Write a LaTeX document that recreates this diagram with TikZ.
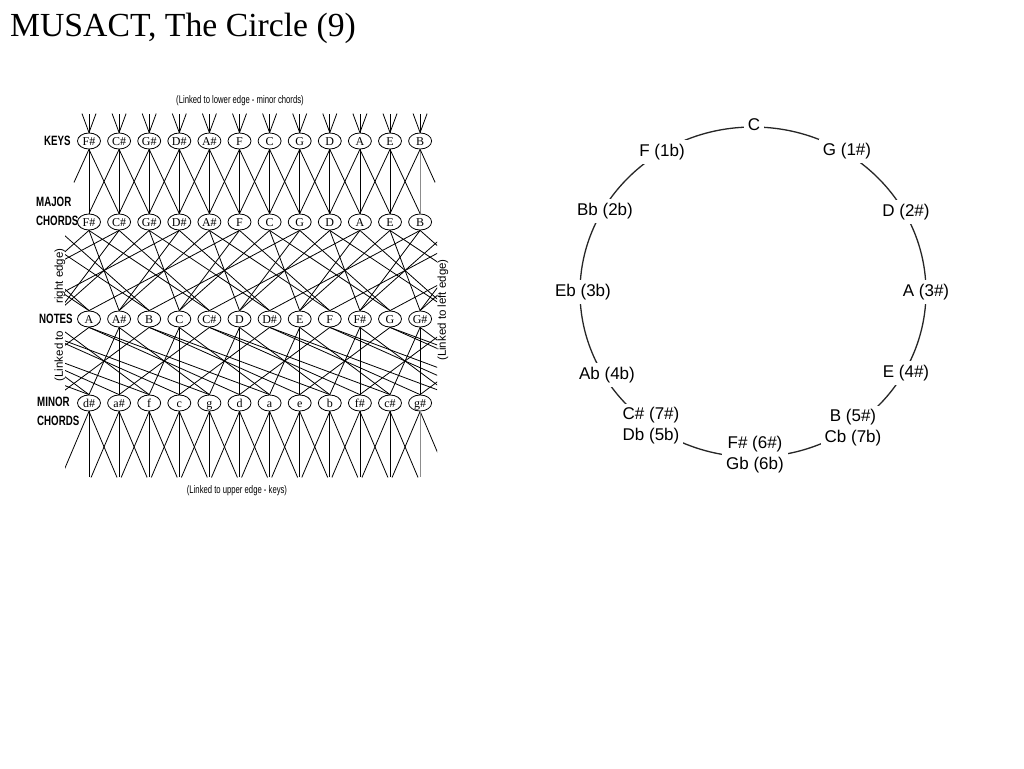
\documentclass[tikz,border=0pt]{standalone}
\usepackage{fontspec}
\setmainfont{Liberation Serif}
\newfontfamily\mcsans{Liberation Sans}
\newfontfamily\mcrowfont[FakeStretch=0.72]{Liberation Sans Bold}
\newfontfamily\mclinkfont[FakeStretch=0.7]{Liberation Sans}
\usepackage{tikz}
\usetikzlibrary{shapes.geometric,positioning}
\tikzset{
  mcnote/.style={draw, ellipse, fill=white, inner sep=0pt, minimum width=23pt,
    minimum height=16pt, text height=8pt, text depth=0pt, line width=0.8pt,
    font=\fontsize{12}{12}\selectfont},
  mcrow/.style={anchor=west, align=left, inner sep=0pt,
    font=\mcrowfont\fontsize{13.5}{19}\selectfont},
  mclink/.style={inner sep=0pt, font=\mclinkfont\fontsize{11}{11}\selectfont},
  mcedge/.style={inner sep=0pt, rotate=90, font=\mcsans\fontsize{11.5}{11.5}\selectfont},
  mcline/.style={line width=0.8pt, draw=black},
  mcgray/.style={line width=0.9pt, draw=black!45},
  cfring/.style={line width=1.3pt, draw=black!85},
  cflabel/.style={fill=white, inner sep=4pt, align=center,
    font=\mcsans\fontsize{17}{21}\selectfont}
}
\begin{document}
\begin{tikzpicture}[x=1pt,y=-1pt]
  \fill[white] (0,0) rectangle (1024,768);
  \useasboundingbox (0,0) rectangle (1024,768);
  \node[anchor=base west, inner sep=0pt, font=\fontsize{33.7}{40}\selectfont] (title) at (10,37) {MUSACT, The Circle (9)};

  % MUSACT network: keys, major chords, notes, minor chords
  \foreach \lab [count=\i from 0] in {F\#,C\#,G\#,D\#,A\#,F,C,G,D,A,E,B} {
    \node[mcnote] (key\i) at (89+30.1*\i,141) {\lab};
    \node[mcnote] (maj\i) at (89+30.1*\i,222) {\lab};
  }
  \foreach \lab [count=\i from 0] in {A,A\#,B,C,C\#,D,D\#,E,F,F\#,G,G\#}
    \node[mcnote] (note\i) at (89+30.1*\i,319) {\lab};
  \foreach \lab [count=\i from 0] in {d\#,a\#,f,c,g,d,a,e,b,f\#,c\#,g\#}
    \node[mcnote] (min\i) at (89+30.1*\i,403) {\lab};

  \node[mcrow] (rkeys) at (44,141) {KEYS};
  \node[mcrow] (rmaj) at (36,211.5) {MAJOR\\CHORDS};
  \node[mcrow] (rnotes) at (39,319) {NOTES};
  \node[mcrow] (rmin) at (37,411.5) {MINOR\\CHORDS};

  \node[mclink] (ltop) at (240,101) {(Linked to lower edge - minor chords)};
  \node[mclink] (lbot) at (237,491) {(Linked to upper edge - keys)};
  \node[mcedge] (lright) at (60,276) {right edge)};
  \node[mcedge] (lright2) at (60,356) {(Linked to};
  \node[mcedge] (lleft) at (443,310) {(Linked to left edge)};

  \begin{scope}
    \clip (65,95) rectangle (437,485);
    % into the keys from the upper edge
    \foreach \i in {0,...,11} {
      \draw[mcline] (key\i.north) -- ++(-7,-19);
      \draw[mcline] (key\i.north) -- ++(0,-19);
      \draw[mcline] (key\i.north) -- ++(7,-19);
    }
    % keys to major chords
    \foreach \i in {0,...,10}
      \draw[mcline] (key\i.south) -- (maj\i.north);
    \draw[mcgray] (key11.south) -- (maj11.north);
    \foreach \i [evaluate=\i as \j using int(\i+1)] in {0,...,10} {
      \draw[mcline] (key\i.south) -- (maj\j.north);
      \draw[mcline] (key\j.south) -- (maj\i.north);
    }
    \draw[mcline] (key0.south) -- ++(-15,33);
    \draw[mcline] (key11.south) -- ++(15,33);
    % major chords to notes, wrapped at the side edges
    \foreach \k in {0,...,11} {
      \pgfmathtruncatemacro{\parity}{mod(\k,2)}
      \ifnum\parity=0 \def\offs{-3,1,4}\else \def\offs{3,-5,-2}\fi
      \foreach \d in \offs {
        \pgfmathtruncatemacro{\tgt}{\k+\d}
        \pgfmathtruncatemacro{\tcol}{mod(\tgt+12,12)}
        \pgfmathsetmacro{\shft}{(\tgt-\tcol)*30.1}
        \pgfmathsetmacro{\shftn}{(\tcol-\tgt)*30.1}
        \draw[mcline] (maj\k.south) -- ([xshift=\shft pt]note\tcol.north);
        \ifnum\tgt=\tcol\else
          \draw[mcline] ([xshift=\shftn pt]maj\k.south) -- (note\tcol.north);
        \fi
      }
    }
    % notes to minor chords
    \foreach \k in {0,...,11} {
      \pgfmathtruncatemacro{\parity}{mod(\k,2)}
      \ifnum\parity=0 \def\offs{-6,-3,1}\else \def\offs{0,3,-5}\fi
      \foreach \d in \offs {
        \pgfmathtruncatemacro{\tgt}{\k+\d}
        \pgfmathtruncatemacro{\tcol}{mod(\tgt+12,12)}
        \pgfmathsetmacro{\shft}{(\tgt-\tcol)*30.1}
        \pgfmathsetmacro{\shftn}{(\tcol-\tgt)*30.1}
        \draw[mcline] ([xshift=\shft pt]note\tcol.south) -- (min\k.north);
        \ifnum\tgt=\tcol\else
          \draw[mcline] (note\tcol.south) -- ([xshift=\shftn pt]min\k.north);
        \fi
      }
    }
    % minor chords to the lower edge
    \foreach \i in {0,...,11} {
      \draw[mcline] (min\i.south) -- ++(-28,66);
      \draw[mcline] (min\i.south) -- ++(28,66);
    }
    \foreach \i in {0,...,10}
      \draw[mcline] (min\i.south) -- ++(0,66);
    \draw[mcgray] (min11.south) -- ++(0,66);
  \end{scope}

  % circle of fifths
  \coordinate (cfo) at (753,292);
  \draw[cfring] (cfo) ellipse [x radius=173, y radius=165];
  \node[cflabel] (cfC) at (754,125) {C};
  \node[cflabel] (cfG) at (847,151) {G (1\#)};
  \node[cflabel] (cfD) at (906,212) {D (2\#)};
  \node[cflabel] (cfA) at (926,292) {A (3\#)};
  \node[cflabel] (cfE) at (906,373) {E (4\#)};
  \node[cflabel] (cfB) at (853,428) {B (5\#)\\Cb (7b)};
  \node[cflabel] (cfFs) at (755,455) {F\# (6\#)\\Gb (6b)};
  \node[cflabel] (cfCs) at (651,426) {C\# (7\#)\\Db (5b)};
  \node[cflabel] (cfAb) at (607,375) {Ab (4b)};
  \node[cflabel] (cfEb) at (583,292) {Eb (3b)};
  \node[cflabel] (cfBb) at (605,211) {Bb (2b)};
  \node[cflabel] (cfF) at (662,152) {F (1b)};
\end{tikzpicture}
\end{document}
